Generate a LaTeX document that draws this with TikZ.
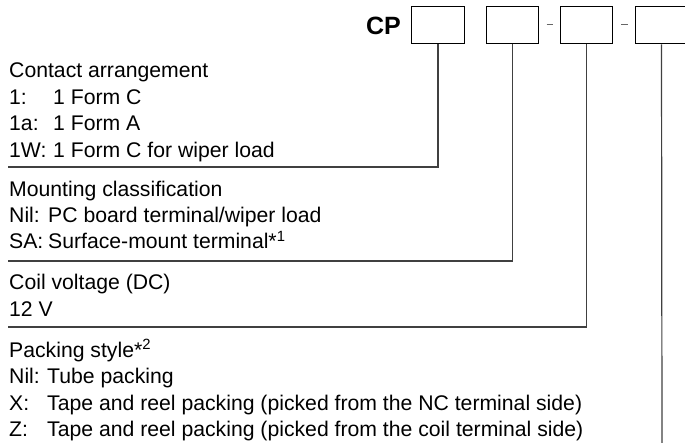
\documentclass[tikz,border=0pt]{standalone}
\usepackage{fontspec}
\setmainfont{Liberation Sans}
\usepackage{tikz}
\newcommand{\tabkey}[2]{\makebox[#1][l]{#2}}

\begin{document}
\begin{tikzpicture}[x=1pt, y=-1pt,
	every node/.style={font=\fontsize{21.2}{24}\selectfont, text=black},
	digitbox/.style={draw=black, line width=1pt, minimum width=52.5pt, minimum height=37pt, inner sep=0},
	entry/.style={anchor=base west, inner sep=0},
	lead/.style={draw=black!75, line width=1.2pt}]
	\useasboundingbox (0,0) rectangle (685,443);

	% Part number
	\node[anchor=base east, inner sep=0, font=\fontsize{25}{28}\selectfont\bfseries] (cp) at (401,35) {CP};
	\node[digitbox] (box1) at (438,25.5) {};
	\node[digitbox] (box2) at (512.5,25.5) {};
	\node[digitbox] (box3) at (586.5,25.5) {};
	\node[digitbox] (box4) at (661.5,25.5) {};

	% Separators
	\draw[black!60, line width=1pt] (546.5,25) -- (553,25);
	\draw[black!60, line width=1pt] (621,25) -- (627.5,25);

	% Contact arrangement
	\node[entry] (ca)  at (9,78)    {Contact arrangement};
	\node[entry] (ca1) at (9,104.5) {\tabkey{44pt}{1:}1 Form C};
	\node[entry] (ca2) at (9,131)   {\tabkey{44pt}{1a:}1 Form A};
	\node[entry] (ca3) at (9,157.5) {\tabkey{44pt}{1W:}1 Form C for wiper load};

	% Mounting classification
	\node[entry] (mc)  at (9,197) {Mounting classification};
	\node[entry] (mc1) at (9,223) {\tabkey{39pt}{Nil:}PC board terminal/wiper load};
	\node[entry] (mc2) at (9,249) {\tabkey{39pt}{SA:}Surface-mount terminal*\textsuperscript{1}};

	% Coil voltage
	\node[entry] (cv)  at (9,290) {Coil voltage (DC)};
	\node[entry] (cv1) at (9,317) {12 V};

	% Packing style
	\node[entry] (ps)  at (9,357)   {Packing style*\textsuperscript{2}};
	\node[entry] (ps1) at (9,383.5) {\tabkey{38pt}{Nil:}Tube packing};
	\node[entry] (ps2) at (9,410)   {\tabkey{38pt}{X:}Tape and reel packing (picked from the NC terminal side)};
	\node[entry] (ps3) at (9,436)   {\tabkey{38pt}{Z:}Tape and reel packing (picked from the coil terminal side)};

	% Leader lines
	\coordinate (end1) at (8,167);
	\coordinate (end2) at (8,261);
	\coordinate (end3) at (8,327);
	\coordinate (end4) at (662,443);
	\draw[lead] (box1.south) |- (end1);
	\draw[lead] (box2.south) |- (end2);
	\draw[lead] (box3.south) |- (end3);
	\draw[lead] (box4.south) -- (end4);
\end{tikzpicture}
\end{document}
